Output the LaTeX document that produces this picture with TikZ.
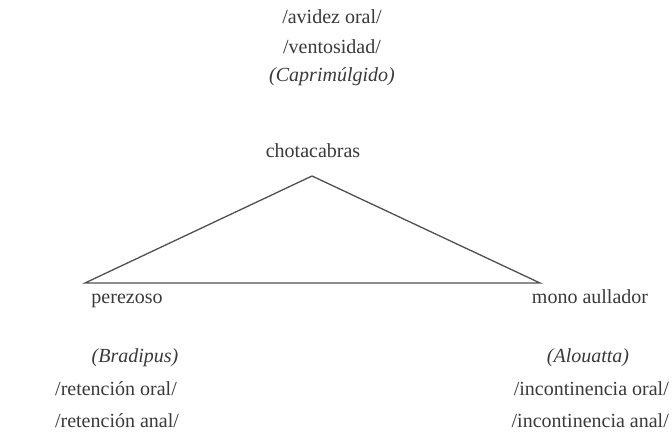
\documentclass[tikz,border=0pt]{standalone}
\usepackage{fontspec}
\setmainfont{Liberation Serif}
\definecolor{ink}{HTML}{3A3A3A}
\definecolor{edge}{HTML}{505050}
\begin{document}
\begin{tikzpicture}[x=1pt,y=-1pt,
  lbl/.style={anchor=base,inner sep=0pt,text=ink,font=\fontsize{20}{24}\selectfont},
  sci/.style={lbl,font=\fontsize{20}{24}\selectfont\itshape},
  side/.style={draw=edge,line width=1.3pt,line join=miter}]
\fill[white] (0,0) rectangle (672,438);
\useasboundingbox (0,0) rectangle (672,438);

% top: chotacabras
\node[lbl] (t1) at (332,24) {/avidez oral/};
\node[lbl] (t2) at (332,54) {/ventosidad/};
\node[sci] (t3) at (332,82) {(Caprimúlgido)};
\node[lbl] (top) at (313,158) {chotacabras};

% left: perezoso
\node[lbl] (left) at (127,304) {perezoso};
\node[sci] (l1) at (135,362) {(Bradipus)};
\node[lbl] (l2) at (116,395) {/retención oral/};
\node[lbl] (l3) at (117,427) {/retención anal/};

% right: mono aullador
\node[lbl] (right) at (590,304) {mono aullador};
\node[sci] (r1) at (588,362) {(Alouatta)};
\node[lbl,anchor=base east] (r2) at (669,395) {/incontinencia oral/};
\node[lbl,anchor=base east] (r3) at (669,427) {/incontinencia anal/};

% triangle corners
\coordinate (A) at (312,176);
\coordinate (B) at (85,283);
\coordinate (C) at (540,283);
\draw[side] (A) -- (B) -- (C) -- cycle;
\end{tikzpicture}
\end{document}
